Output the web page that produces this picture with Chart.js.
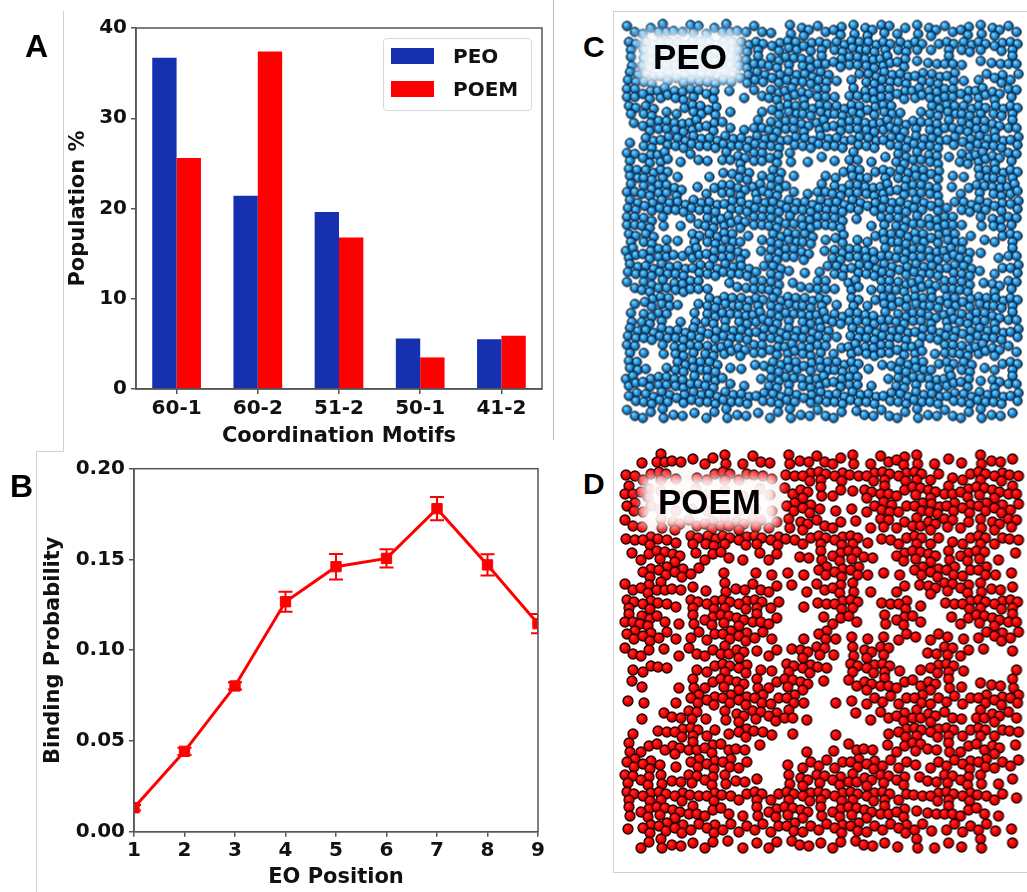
<!DOCTYPE html>
<html>
<head>
<meta charset="utf-8">
<script src="https://cdn.jsdelivr.net/npm/chart.js@4.4.1/dist/chart.umd.min.js"></script>
<style>
  html, body { margin: 0; padding: 0; background: #fff; }
  body { width: 1027px; height: 892px; position: relative; overflow: hidden; }
  canvas { position: absolute; }
  .rule { position: absolute; background: #cfcfcf; }
  .letter { position: absolute; font-family: "Liberation Sans", Arial, sans-serif; font-weight: bold; color: #000; line-height: 1; }
  .legend { position: absolute; left: 383px; top: 38px; width: 147px; height: 71px; border: 1px solid #dadada; border-radius: 4px; background: rgba(255,255,255,0.85); }
  .legend .row { position: absolute; left: 0; height: 20px; }
  .legend .patch { position: absolute; left: 7px; width: 43px; height: 16px; }
  .legend .name { position: absolute; left: 69px; font-family: "DejaVu Sans", sans-serif; font-weight: bold; font-size: 20px; line-height: 20px; color: #111; white-space: nowrap; }
  .tag { position: absolute; }
  .tag .glow { position: absolute; left: 0; top: 0; right: 0; bottom: 0; filter: blur(4px); }
  .tag .txt { position: absolute; left: 0; right: 0; top: 0; bottom: 0; display: flex; align-items: center; justify-content: center; font-family: "Liberation Sans", Arial, sans-serif; font-weight: bold; font-size: 35px; color: #000; }
</style>
</head>
<body>

<!-- panel frame rules -->
<div class="rule" style="left:63px; top:11px; width:1px; height:440px;"></div>
<div class="rule" style="left:36px; top:451px; width:28px; height:1px;"></div>
<div class="rule" style="left:36px; top:451px; width:1px; height:441px;"></div>
<div class="rule" style="left:553px; top:0px; width:1px; height:440px; background:#bdbdbd;"></div>
<div class="rule" style="left:613px; top:11px; width:1px; height:861px;"></div>
<div class="rule" style="left:613px; top:11px; width:414px; height:1px;"></div>
<div class="rule" style="left:613px; top:872px; width:414px; height:1px;"></div>

<canvas id="barChart" width="553" height="450" style="left:0; top:0;"></canvas>
<canvas id="lineChart" width="553" height="440" style="left:0; top:452px;"></canvas>
<canvas id="peoChart" width="413" height="420" style="left:614px; top:12px;"></canvas>
<canvas id="poemChart" width="413" height="420" style="left:614px; top:442px;"></canvas>

<div class="letter" style="left:25px; top:30px; font-size:32px;">A</div>
<div class="letter" style="left:10px; top:470px; font-size:32px;">B</div>
<div class="letter" style="left:583px; top:32px; font-size:30px;">C</div>
<div class="letter" style="left:583px; top:469px; font-size:30px;">D</div>

<div class="legend" id="legend"></div>

<div class="tag" style="left:640px; top:33px; width:100px; height:48px;">
  <div class="glow" style="background:rgba(250,253,255,0.93); box-shadow:0 0 5px 2px rgba(190,220,245,0.9);"></div>
  <div class="txt" id="peoTag"></div>
</div>
<div class="tag" style="left:643px; top:478px; width:133px; height:47px;">
  <div class="glow" style="background:rgba(255,252,252,0.93); box-shadow:0 0 5px 2px rgba(255,200,200,0.9);"></div>
  <div class="txt" id="poemTag"></div>
</div>

<script>
// ---- Panel A: coordination motif populations ----
const motifs = ['60-1', '60-2', '51-2', '50-1', '41-2'];
const peoPopulation = [36.7, 21.4, 19.6, 5.6, 5.5];
const poemPopulation = [25.6, 37.4, 16.8, 3.5, 5.9];
const populationTicks = [0, 10, 20, 30, 40];
const seriesNames = ['PEO', 'POEM'];
const seriesColors = ['#1630b0', '#ff0000'];

// ---- Panel B: binding probability per EO position ----
const eoPosition = [1, 2, 3, 4, 5, 6, 7, 8, 9];
const bindingProb = [0.0132, 0.0443, 0.0803, 0.1267, 0.1460, 0.1506, 0.1780, 0.1470, 0.1146];
const bindingErr = [0.0015, 0.0020, 0.0020, 0.0055, 0.0070, 0.0050, 0.0064, 0.0058, 0.0053];
const probTicks = [0.00, 0.05, 0.10, 0.15, 0.20];

// ---- Panels C/D: bead occupancy per 16 px cell of the simulation box (rows top to bottom) ----
const peoOccupancy = [
  '2232323221232323322323232',
  '3444444433433444343234333',
  '2444444434343344431231123',
  '4433444343444124443431232',
  '4344331124434134434443433',
  '3412431013444443411444343',
  '1344432134434344443434433',
  '1434444444344434344433443',
  '3341213343211131143414433',
  '4431012414101242344311443',
  '3443124344213444434412344',
  '4344443444444443444324433',
  '4421244344344411343441243',
  '3411344214441312444342123',
  '4342434314431444344444113',
  '4444344424112434434434123',
  '2434411244124141444344133',
  '1341144434443132434443443',
  '2431243444344444344344433',
  '4444434434444144443443443',
  '3124344343443244434144432',
  '4114441124434431244234123',
  '4344342114344341143443133',
  '3443444434434444344434443',
  '2222122212222212222222221'
];
const poemOccupancy = [
  '0132122121222221232111221',
  '2231123221233323333212332',
  '3311111111232213323333333',
  '3211111111331112423433332',
  '2123233332232211323332233',
  '2321343333223331223212322',
  '1233122112022332033323311',
  '0333201011113331113332311',
  '2332112222112321021333221',
  '3321333332012330231023333',
  '3421233332001220232012333',
  '3321223321013111121211232',
  '2211223312133123300232101',
  '1220123311332033311331001',
  '1101223322331023322321122',
  '1101333332310112223222333',
  '0112312333310011233321332',
  '1023321321100100133332322',
  '2223332210010122123222231',
  '3311333200122233221223322',
  '3322332210233333331233211',
  '3333232232333333322333221',
  '2333322123332333331232210',
  '1333232222322332232122211',
  '0222121112121212112111201'
];
const boxCells = 25;

const tickFont = { family: '"DejaVu Sans", sans-serif', weight: 'bold', size: 20 };
const titleFont = { family: '"DejaVu Sans", sans-serif', weight: 'bold', size: 21 };
const spineColor = '#555';

// axis frame on all four sides, like a boxed plot
const frame = {
  id: 'frame',
  afterDraw(chart) {
    const { ctx, chartArea: a } = chart;
    ctx.save();
    ctx.strokeStyle = spineColor;
    ctx.lineWidth = 1.5;
    ctx.strokeRect(a.left, a.top, a.right - a.left, a.bottom - a.top);
    ctx.restore();
  }
};

Chart.defaults.animation = false;
Chart.defaults.responsive = false;
Chart.defaults.events = [];
Chart.defaults.plugins.tooltip.enabled = false;

function axisGrid() {
  return { display: true, drawOnChartArea: false, drawTicks: true, tickLength: 5, color: spineColor, lineWidth: 1.5, offset: false };
}

// ---------------- Panel A ----------------
new Chart(document.getElementById('barChart'), {
  type: 'bar',
  data: {
    labels: motifs,
    datasets: [
      { label: seriesNames[0], data: peoPopulation, backgroundColor: seriesColors[0], borderWidth: 0, categoryPercentage: 0.6, barPercentage: 1.0 },
      { label: seriesNames[1], data: poemPopulation, backgroundColor: seriesColors[1], borderWidth: 0, categoryPercentage: 0.6, barPercentage: 1.0 }
    ]
  },
  options: {
    layout: { padding: { left: 66.4, top: 28, right: 11, bottom: 0.4 } },
    plugins: { legend: { display: false } },
    scales: {
      x: {
        offset: true,
        grid: axisGrid(),
        border: { display: true, color: spineColor, width: 1.5 },
        ticks: { font: tickFont, color: '#111', padding: 3, maxRotation: 0 },
        title: { display: true, text: 'Coordination Motifs', font: titleFont, color: '#111', padding: 0 },
        afterFit(s) { s.height = 60.6; }
      },
      y: {
        min: 0, max: 40,
        grid: axisGrid(),
        border: { display: true, color: spineColor, width: 1.5 },
        afterBuildTicks(s) { s.ticks = populationTicks.map(v => ({ value: v })); },
        ticks: { font: tickFont, color: '#111', padding: 4 },
        title: { display: true, text: 'Population %', font: titleFont, color: '#111', padding: 0 },
        afterFit(s) { s.width = 69.6; }
      }
    }
  },
  plugins: [frame]
});

// legend for panel A
const legendBox = document.getElementById('legend');
seriesNames.forEach((name, i) => {
  const row = document.createElement('div');
  row.className = 'row';
  row.style.top = (i === 0 ? 8 : 41) + 'px';
  row.style.width = '100%';
  const patch = document.createElement('div');
  patch.className = 'patch';
  patch.style.top = '1px';
  patch.style.background = seriesColors[i];
  const label = document.createElement('div');
  label.className = 'name';
  label.style.top = '-1px';
  label.textContent = name;
  row.appendChild(patch);
  row.appendChild(label);
  legendBox.appendChild(row);
});

// ---------------- Panel B ----------------
const lineColor = '#ff0000';
const errorBars = {
  id: 'errorBars',
  afterDatasetsDraw(chart) {
    const { ctx, chartArea: a, scales: { x, y } } = chart;
    ctx.save();
    ctx.beginPath();
    ctx.rect(a.left, a.top, a.right - a.left, a.bottom - a.top);
    ctx.clip();
    ctx.strokeStyle = lineColor;
    ctx.lineWidth = 2;
    eoPosition.forEach((p, i) => {
      const px = x.getPixelForValue(p);
      const hi = y.getPixelForValue(bindingProb[i] + bindingErr[i]);
      const lo = y.getPixelForValue(bindingProb[i] - bindingErr[i]);
      ctx.beginPath();
      ctx.moveTo(px, hi); ctx.lineTo(px, lo);
      ctx.moveTo(px - 7, hi); ctx.lineTo(px + 7, hi);
      ctx.moveTo(px - 7, lo); ctx.lineTo(px + 7, lo);
      ctx.stroke();
    });
    ctx.restore();
  }
};

new Chart(document.getElementById('lineChart'), {
  type: 'line',
  data: {
    datasets: [{
      label: 'POEM',
      data: eoPosition.map((p, i) => ({ x: p, y: bindingProb[i] })),
      borderColor: lineColor,
      backgroundColor: lineColor,
      borderWidth: 3,
      pointStyle: 'rect',
      pointRadius: 7.3,
      pointBorderWidth: 1,
      pointBorderColor: lineColor,
      pointBackgroundColor: lineColor,
      tension: 0,
      clip: 0
    }]
  },
  options: {
    layout: { padding: { left: 41.4, top: 16.7, right: 15, bottom: 1.4 } },
    plugins: { legend: { display: false } },
    scales: {
      x: {
        type: 'linear', min: 1, max: 9,
        grid: axisGrid(),
        border: { display: true, color: spineColor, width: 1.5 },
        afterBuildTicks(s) { s.ticks = eoPosition.map(v => ({ value: v })); },
        ticks: { font: tickFont, color: '#111', padding: 2 },
        title: { display: true, text: 'EO Position', font: titleFont, color: '#111', padding: 0 },
        afterFit(s) { s.height = 58.9; }
      },
      y: {
        min: 0, max: 0.2,
        grid: axisGrid(),
        border: { display: true, color: spineColor, width: 1.5 },
        afterBuildTicks(s) { s.ticks = probTicks.map(v => ({ value: v })); },
        ticks: { font: tickFont, color: '#111', padding: 4, callback: v => Number(v).toFixed(2) },
        title: { display: true, text: 'Binding Probability', font: titleFont, color: '#111', padding: 0 },
        afterFit(s) { s.width = 92.6; }
      }
    }
  },
  plugins: [frame, errorBars]
});

// ---------------- Panels C / D ----------------
function makeBead(radius, light, mid, dark, outline, outlineWidth) {
  const size = Math.ceil(radius * 2 + outlineWidth + 2);
  const c = document.createElement('canvas');
  c.width = c.height = size;
  const g = c.getContext('2d');
  const cx = size / 2, cy = size / 2;
  const grad = g.createRadialGradient(cx - radius * 0.35, cy - radius * 0.4, radius * 0.1, cx, cy, radius);
  grad.addColorStop(0, light);
  grad.addColorStop(0.55, mid);
  grad.addColorStop(1, dark);
  g.beginPath();
  g.arc(cx, cy, radius, 0, Math.PI * 2);
  g.fillStyle = grad;
  g.fill();
  g.lineWidth = outlineWidth;
  g.strokeStyle = outline;
  g.stroke();
  return c;
}

// bead arrangements inside one 16 px cell, by bead count (several variants per count)
const slotOffsets = {
  1: [[[0, 0]], [[-3, 2]], [[3, -2]], [[2, 3]]],
  2: [[[-4, -3], [4, 3]], [[-4, 3], [4, -3]], [[0, -4], [1, 5]], [[-5, 0], [4, 1]]],
  3: [[[-4, -4], [4, -3], [-1, 4]], [[4, -4], [-4, -1], [3, 4]], [[0, -5], [-4, 3], [4, 3]], [[-4, -3], [3, -1], [-2, 5]]],
  4: [[[-4, -4], [4, -4], [-4, 4], [4, 4]], [[-3, -5], [5, -2], [-5, 3], [3, 5]], [[-5, -2], [2, -5], [-2, 5], [5, 2]], [[-4, -4], [4, -3], [-3, 3], [5, 5]]]
};

function beadsFrom(grid) {
  const pts = [];
  grid.forEach((row, r) => {
    for (let c = 0; c < boxCells; c++) {
      const n = parseInt(row[c] || '0', 10);
      if (!n) continue;
      const variant = slotOffsets[n][(r * 3 + c * 5 + r * c) % 4];
      const sx = (r % 2) * 2 - 1;
      const sy = (c % 2) * 2 - 1;
      variant.forEach(([ox, oy]) => {
        pts.push({ x: c + 0.5 + (ox + sx) / 16, y: r + 0.5 + (oy + sy) / 16 });
      });
    }
  });
  return pts;
}

function boxChart(id, grid, bead, pad) {
  new Chart(document.getElementById(id), {
    type: 'scatter',
    data: {
      datasets: [{
        data: beadsFrom(grid),
        pointStyle: bead,
        pointRadius: 4.5,
        showLine: false,
        clip: false
      }]
    },
    options: {
      layout: { padding: pad },
      plugins: { legend: { display: false } },
      scales: {
        x: { type: 'linear', min: 0, max: boxCells, display: false },
        y: { type: 'linear', min: 0, max: boxCells, reverse: true, display: false }
      }
    }
  });
}

const blueBead = makeBead(4.7, '#7fd2ff', '#1d8bd4', '#084378', 'rgba(10,14,22,0.95)', 1.0);
const redBead = makeBead(5.0, '#ff3030', '#f70000', '#c00000', '#1a0404', 1.3);

boxChart('peoChart', peoOccupancy, blueBead, { left: 10, top: 10, right: 3, bottom: 10 });
boxChart('poemChart', poemOccupancy, redBead, { left: 8, top: 10, right: 5, bottom: 10 });

document.getElementById('peoTag').textContent = seriesNames[0];
document.getElementById('poemTag').textContent = seriesNames[1];
</script>
</body>
</html>
